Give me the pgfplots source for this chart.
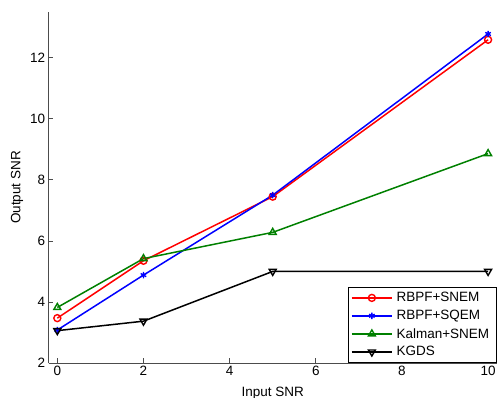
\documentclass[border=0pt]{standalone}
\usepackage{pgfplots}
\pgfplotsset{compat=1.18}
\usepackage{fontspec}
\setmainfont{Liberation Sans}
\begin{document}
\begin{tikzpicture}[font=\fontsize{13.5}{15}\selectfont]
\useasboundingbox (-48.7pt,-35pt) rectangle (449.3pt,363pt);
\begin{axis}[
  scale only axis,
  width=448pt, height=351pt,
  xmin=-0.2, xmax=10.2, ymin=2, ymax=13.5,
  xtick={0,2,4,6,8,10}, ytick={2,4,6,8,10,12},
  axis x line*=bottom, axis y line*=left,
  axis line style={draw=black!70, line width=0.8pt},
  tick style={draw=black!70, line width=0.8pt},
  tick align=inside, major tick length=4.5pt,
  /pgf/number format/assume math mode=true,
  xlabel={Input SNR}, ylabel={Output SNR},
  xlabel style={yshift=-4pt}, ylabel style={yshift=0pt},
  legend style={at={(rel axis cs:1,0)}, anchor=south east, draw=black, line width=1pt,
    font=\fontsize{13.5}{15}\selectfont, row sep=3pt, inner xsep=3pt, inner ysep=3pt,
    nodes={inner xsep=4pt}},
  legend cell align=left,
  legend image code/.code={\draw[#1] (0cm,0cm) -- (1.4cm,0cm); \draw[#1, mark repeat=2, mark phase=2] plot coordinates {(0cm,0cm) (0.7cm,0cm) (1.4cm,0cm)};},
]
\addplot[red, line width=1.5pt, mark=o, mark size=3.5pt, mark options={solid, line width=1.4pt}] coordinates {(0,3.47) (2,5.35) (5,7.45) (10,12.59)};
\addlegendentry{RBPF+SNEM\hspace{8pt}}
\addplot[blue, line width=1.5pt, mark=asterisk, mark size=3.2pt, mark options={solid, line width=1.4pt}] coordinates {(0,3.08) (2,4.88) (5,7.5) (10,12.78)};
\addlegendentry{RBPF+SQEM}
\addplot[black!50!green, line width=1.5pt, mark=triangle, mark size=4pt, mark options={solid, line width=1.4pt}] coordinates {(0,3.82) (2,5.42) (5,6.28) (10,8.86)};
\addlegendentry{Kalman+SNEM}
\addplot[black, line width=1.5pt, mark=triangle, mark size=4pt, mark options={solid, rotate=180, line width=1.4pt}] coordinates {(0,3.06) (2,3.37) (5,5.0) (10,5.0)};
\addlegendentry{KGDS}
\end{axis}
\end{tikzpicture}
\end{document}
